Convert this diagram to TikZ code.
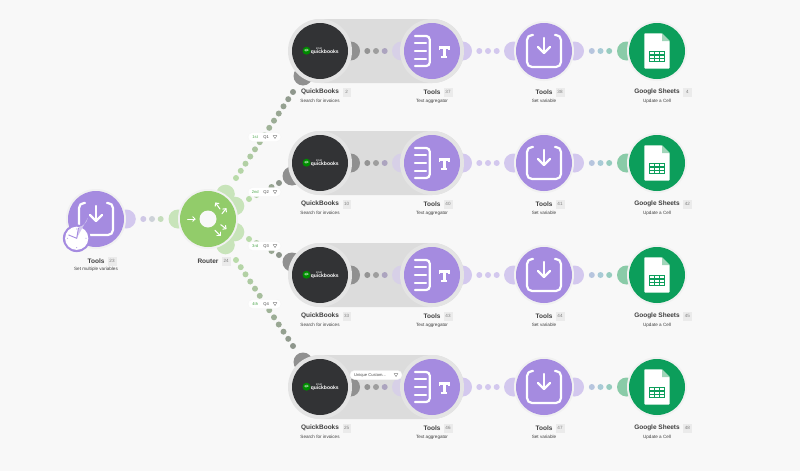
\documentclass[tikz,border=0pt]{standalone}
\usepackage{fontspec}
\setmainfont{Liberation Sans}
\usetikzlibrary{calc}
\definecolor{bgc}{HTML}{F8F8F8}
\definecolor{purp}{HTML}{A58BE0}
\definecolor{purpl}{HTML}{D3C8EE}
\definecolor{grn}{HTML}{92CC6A}
\definecolor{grnl}{HTML}{C8E4BA}
\definecolor{qbd}{HTML}{323335}
\definecolor{qbl}{HTML}{909090}
\definecolor{gsg}{HTML}{0C9E5B}
\definecolor{gsl}{HTML}{8ACBA8}
\definecolor{caps}{HTML}{DCDCDC}
\definecolor{halo}{HTML}{E4E4E4}
\definecolor{txt}{HTML}{404040}
\definecolor{badge}{HTML}{EBEBEB}
\definecolor{bstart}{HTML}{B9DBA9}
\definecolor{bend}{HTML}{8E968C}
\definecolor{shad}{HTML}{F1F1F1}
\tikzset{x=1pt,y=-1pt,
 disc/.style={circle,minimum size=56pt,inner sep=0pt},
 nm/.style={font=\fontsize{6.5}{8}\selectfont\bfseries,text=txt,inner sep=0pt},
 subt/.style={font=\fontsize{4.6}{5}\selectfont,text=txt,inner sep=0pt},
 bdg/.style={font=\fontsize{4.6}{5}\selectfont,text=black!50,fill=badge,draw=black!8,line width=.3pt,minimum size=7.5pt,inner sep=.5pt},
 pill/.style={fill=white,draw=black!4,line width=.4pt,rounded corners=4.5pt,minimum height=9pt,inner sep=0pt},
 plab/.style={font=\fontsize{4.1}{4}\selectfont,inner sep=0pt},
 ico/.style={white,line width=2.2pt,line cap=round,line join=round},
 rar/.style={white,line width=1pt,line cap=round,line join=round},
}
\newcommand{\setico}[1]{%
 \draw[ico,rounded corners=5pt] ($(#1)+(-11,-16)$) -- ($(#1)+(-17,-16)$) -- ($(#1)+(-17,16)$) -- ($(#1)+(17,16)$) -- ($(#1)+(17,-16)$) -- ($(#1)+(11,-16)$);
 \draw[ico] ($(#1)+(0,-13)$) -- ($(#1)+(0,2)$);
 \draw[ico] ($(#1)+(-6,-4)$) -- ($(#1)+(0,2)$) -- ($(#1)+(6,-4)$);
}
\newcommand{\aggico}[1]{%
 \draw[ico,rounded corners=3.5pt] ($(#1)+(-17,-15)$) -- ($(#1)+(-2.3,-15)$) -- ($(#1)+(-2.3,15)$) -- ($(#1)+(-17,15)$);
 \foreach \yy in {-7.7,0,7.7}{\draw[ico] ($(#1)+(-17,\yy)$) -- ($(#1)+(-6,\yy)$);}
 \draw[ico,line cap=butt,line width=2.6pt] ($(#1)+(7,-3.8)$) -- ($(#1)+(17.7,-3.8)$);
 \draw[ico,line cap=butt,line width=3pt] ($(#1)+(12.3,-4)$) -- ($(#1)+(12.3,6)$);
 \draw[ico,line cap=butt,line width=1.4pt] ($(#1)+(9.3,6.1)$) -- ($(#1)+(15.3,6.1)$);
 \draw[ico,line cap=butt,line width=1.4pt] ($(#1)+(7.7,-4)$) -- ($(#1)+(7.7,-.8)$);
 \draw[ico,line cap=butt,line width=1.4pt] ($(#1)+(17,-4)$) -- ($(#1)+(17,-.8)$);
}
\newcommand{\gsico}[1]{%
 \fill[white,rounded corners=.8pt] ($(#1)+(-12.7,-17.7)$) -- ($(#1)+(5,-17.7)$) -- ($(#1)+(12.7,-10)$) -- ($(#1)+(12.7,17.5)$) -- ($(#1)+(-12.7,17.5)$) -- cycle;
 \fill[gsl!80!white] ($(#1)+(5,-17.7)$) -- ($(#1)+(12.7,-10)$) -- ($(#1)+(5,-10)$) -- cycle;
 \draw[gsg,line width=1.3pt] ($(#1)+(-7.2,.5)$) rectangle ($(#1)+(7.2,10.8)$);
 \draw[gsg,line width=1.2pt] ($(#1)+(-7.2,3.9)$) -- ($(#1)+(7.2,3.9)$) ($(#1)+(-7.2,7.3)$) -- ($(#1)+(7.2,7.3)$) ($(#1)+(-2.2,.5)$) -- ($(#1)+(-2.2,10.8)$) ($(#1)+(2.2,.5)$) -- ($(#1)+(2.2,10.8)$);
}
\newcommand{\qbico}[1]{%
 \fill[green!55!black] ($(#1)+(-13.5,-.3)$) circle (4pt);
 \node[font=\fontsize{3.2}{3}\selectfont\bfseries,text=white,inner sep=0pt] at ($(#1)+(-13.5,-.3)$) {qb};
 \node[font=\fontsize{2.8}{3}\selectfont,text=white,inner sep=0pt] at ($(#1)+(-1,-3)$) {intuit};
 \node[font=\fontsize{5}{6}\selectfont\bfseries,text=white,inner sep=0pt,anchor=west] at ($(#1)+(-9.3,1.7)$) {quickbooks};
}
\newcommand{\lbl}[4]{%
 \node[nm,anchor=center] (#1n) at ($(#1)+(0,41)$) {#2};
 \node[bdg,anchor=west] (#1b) at ($(#1n.east)+(3.5,0)$) {#3};
 \node[subt] (#1s) at ($(#1)+(0,50)$) {#4};
}
\newcommand{\trio}[5]{%
 \coordinate (mm) at ($(#1)!.5!(#2)$);
 \fill[#3] ($(mm)+(-8.7,0)$) circle (3pt);
 \fill[#4] (mm) circle (3pt);
 \fill[#5] ($(mm)+(8.7,0)$) circle (3pt);
}
\newcommand{\rrow}[8]{%
 \fill[caps,rounded corners=31.9pt] (289,#2-32) rectangle (464,#2+32);
 \coordinate (a#1) at (320,#2);
 \coordinate (b#1) at (432,#2);
 \coordinate (c#1) at (544,#2);
 \coordinate (d#1) at (657,#2);
 \fill[qbl] (#3,#4) circle (9.5pt);
 \fill[qbl] (350.5,#2) circle (9.5pt);
 \fill[purpl!60!caps] (401.5,#2) circle (9.5pt);
 \fill[purpl] (462.5,#2) circle (9.5pt);
 \fill[purpl] (513.5,#2) circle (9.5pt);
 \fill[purpl] (574.5,#2) circle (9.5pt);
 \fill[gsl] (626.5,#2) circle (9.5pt);
 \fill[halo] (320,#2) circle (32pt) (432,#2) circle (32pt);
 \fill[shad] (544,#2) circle (30pt) (657,#2) circle (30pt);
 \trio{a#1}{b#1}{black!42}{black!38}{black!15!purpl!85!gray}
 \trio{b#1}{c#1}{purpl}{purpl}{purpl}
 \definecolor{dotA}{HTML}{B7C5DE}\definecolor{dotB}{HTML}{A9CBD6}\definecolor{dotC}{HTML}{97CCBF}
 \trio{c#1}{d#1}{dotA}{dotB}{dotC}
 \node[disc,fill=qbd] (q#1) at (a#1) {};
 \node[disc,fill=purp] (t#1) at (b#1) {};
 \node[disc,fill=purp] (v#1) at (c#1) {};
 \node[disc,fill=gsg] (g#1) at (d#1) {};
 \qbico{q#1}
 \aggico{t#1}
 \setico{v#1}
 \gsico{g#1}
 \lbl{q#1}{QuickBooks}{#5}{Search for invoices}
 \lbl{t#1}{Tools}{#6}{Text aggregator}
 \lbl{v#1}{Tools}{#7}{Set variable}
 \lbl{g#1}{Google Sheets}{#8}{Update a Cell}
}
\newcommand{\branch}[3]{%
 \foreach \i in {0,...,#3}{%
  \pgfmathsetmacro{\ff}{\i/#3}
  \pgfmathsetmacro{\pc}{100*(1-\ff)}
  \fill[bstart!\pc!bend] ($(#1)!\ff!(#2)$) circle (3pt);
 }
}
\newcommand{\filt}[1]{%
 \fill[black!55] ($(#1)+(-2.2,-1.7)$) -- ($(#1)+(2.2,-1.7)$) -- ($(#1)+(0,1.9)$) -- cycle;
 \fill[white] ($(#1)+(-1.4,-1.2)$) -- ($(#1)+(1.4,-1.2)$) -- ($(#1)+(0,1)$) -- cycle;
}
\newcommand{\bpill}[5]{%
 \node[pill,minimum width=33pt] (#1) at (#2,#3) {};
 \node[plab,text=green!50!black!70!white] (#1a) at ($(#1)+(-9.3,0)$) {#4};
 \node[plab,text=black!75] (#1c) at ($(#1)+(1.7,0)$) {#5};
 \coordinate (#1f) at ($(#1)+(10.5,0)$);
 \filt{#1f}
}
\newcommand{\rarrow}[2]{\draw[rar] (#1) -- (#2); \draw[rar] ($(#2)!3.2pt!45:(#1)$) -- (#2) -- ($(#2)!3.2pt!-45:(#1)$);}
\begin{document}
\begin{tikzpicture}
\useasboundingbox (0,0) rectangle (800,471);
\fill[bgc] (0,0) rectangle (800,471);
\coordinate (tl) at (96,219);
\coordinate (ro) at (208,219);
\fill[purpl] (126.3,219) circle (9.5pt);
\fill[grnl] (178,219) circle (9.5pt);
\coordinate (l1) at (225.5,194);
\coordinate (l2) at (235,206);
\coordinate (l3) at (235,232);
\coordinate (l4) at (225.5,245);
\foreach \c in {l1,l2,l3,l4}{\fill[grnl] (\c) circle (9.3pt);}
\fill[shad] (tl) circle (30pt) (ro) circle (30pt);
\definecolor{dotD}{HTML}{CFC8E6}\definecolor{dotE}{HTML}{CDD2D8}\definecolor{dotF}{HTML}{C5DDBC}
\trio{tl}{ro}{dotD}{dotE}{dotF}
\coordinate (e1a) at (236,178);
\coordinate (e1b) at (293,92);
\coordinate (e2a) at (249,199);
\coordinate (e2b) at (279,183);
\coordinate (e3a) at (249,239);
\coordinate (e3b) at (279,255);
\coordinate (e4a) at (236,260);
\coordinate (e4b) at (293,346);
\branch{e1a}{e1b}{12}
\branch{e2a}{e2b}{4}
\branch{e3a}{e3b}{4}
\branch{e4a}{e4b}{12}
\rrow{1}{51}{303}{76}{2}{37}{38}{4}
\rrow{2}{163}{292}{176}{10}{40}{41}{42}
\rrow{3}{275}{292}{262}{33}{43}{44}{45}
\rrow{4}{387}{303}{362}{25}{46}{47}{48}
\node[disc,fill=purp] (T0) at (tl) {};
\setico{T0}
\node[circle,fill=purp,minimum size=27.6pt,inner sep=0pt] (ck) at (76.7,238.3) {};
\fill[white] (ck.center) circle (11.6pt);
\fill[purpl] (ck.center) -- ($(ck.center)+(1.9,-11.3)$) arc (-80:-10:11.5pt) -- cycle;
\draw[purp,line width=.9pt,line cap=round] (ck.center) -- ($(ck.center)+(1.7,-10)$);
\draw[purp,line width=.9pt,line cap=round] (ck.center) -- ($(ck.center)+(-8,-3.3)$);
\foreach \aa in {0,90,180,270}{\fill[purp!70] ($(ck.center)+(\aa:9.3)$) circle (.6pt);}
\node[disc,fill=grn] (R) at (ro) {};
\fill[bgc] (R) circle (8.5pt);
\coordinate (r0a) at (187.5,219); \coordinate (r0b) at (195,219);
\rarrow{r0a}{r0b}
\coordinate (r1a) at (220,209); \coordinate (r1b) at (215.7,203);
\rarrow{r1a}{r1b}
\coordinate (r2a) at (222,213.7); \coordinate (r2b) at (226,208.7);
\rarrow{r2a}{r2b}
\coordinate (r3a) at (220.7,224.7); \coordinate (r3b) at (226,228.7);
\rarrow{r3a}{r3b}
\coordinate (r4a) at (215,230.3); \coordinate (r4b) at (220,235.3);
\rarrow{r4a}{r4b}
\node[nm,anchor=center] (tln) at (96,261) {Tools};
\node[bdg,anchor=west] (tlb) at ($(tln.east)+(3.5,0)$) {23};
\node[subt] (tls) at (96,269.5) {Set multiple variables};
\node[nm,anchor=center] (ron) at (208,261) {Router};
\node[bdg,anchor=west] (rob) at ($(ron.east)+(3.5,0)$) {24};
\bpill{p1}{264.5}{137}{1st}{Q1}
\bpill{p2}{264.5}{192}{2nd}{Q2}
\bpill{p3}{264.5}{246}{3rd}{Q3}
\bpill{p4}{264.5}{304}{4th}{Q4}
\node[pill,minimum width=52pt] (p5) at (376,375) {};
\node[plab,text=black!70,anchor=west] (p5a) at (354,375) {Unique Custom...};
\coordinate (p5f) at (396,375);
\filt{p5f}
\end{tikzpicture}
\end{document}
